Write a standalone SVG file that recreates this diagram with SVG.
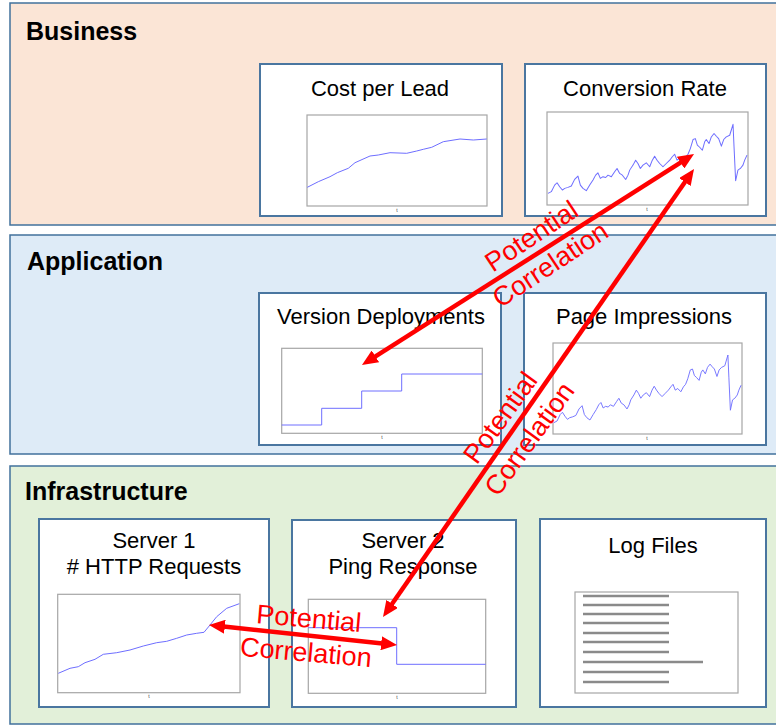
<svg xmlns="http://www.w3.org/2000/svg" width="776" height="725" viewBox="0 0 776 725">
<defs>
<style>
.band{stroke:#41719C;stroke-width:1.5}
.layer{font-family:"Liberation Sans",Arial,sans-serif;font-weight:bold;font-size:25px;fill:#000}
.box{fill:#fff;stroke:#4A76A0;stroke-width:2}
.title{font-family:"Liberation Sans",Arial,sans-serif;font-size:22px;fill:#000;text-anchor:middle}
.frame{fill:#fff;stroke:#A6A6A6;stroke-width:1.2}
.series{fill:none;stroke:#6E6EFF;stroke-width:1;stroke-linejoin:round}
.tick{font-family:"Liberation Sans",Arial,sans-serif;font-size:5px;fill:#444;text-anchor:middle}
.log{stroke:#8A8A8A;stroke-width:2.5}
.arrow{stroke:#FF0000;stroke-width:4.5;fill:none;marker-start:url(#ah);marker-end:url(#ah)}
.lbl{font-family:"Liberation Sans",Arial,sans-serif;font-size:27px;fill:#FF0000;text-anchor:middle}
</style>
<marker id="ah" viewBox="0 0 16 14" markerWidth="16" markerHeight="14" refX="6" refY="7" orient="auto-start-reverse" markerUnits="userSpaceOnUse">
<path d="M0,0 L16,7 L0,14 z" fill="#FF0000"/>
</marker>
<path id="noisy" d="M1,87.5 L4.3,85.7 L7.6,78.6 L10,76.1 L12.6,80.4 L15.3,83.9 L17.6,82.1 L20.9,81.1 L24.2,79.6 L27.5,72.5 L30.8,68.9 L33.2,78.6 L35.8,82.1 L39.1,84.6 L42.5,78.6 L45.8,73.2 L48.4,67.9 L50.7,65.4 L53.1,71.4 L55.7,69.6 L58.4,70.4 L60.7,67.9 L64,69.6 L67.3,64.3 L69.7,60.7 L72.3,66.1 L75,67.9 L78.3,72.5 L80.6,67.9 L82.3,62.5 L85.6,57.1 L88.2,51.8 L90.5,55.4 L92.9,60.7 L95.5,57.1 L98.8,54.6 L102.2,58.9 L104.8,51.8 L107.1,47.5 L109.5,51.8 L112.1,55.4 L115.4,58.9 L118.7,55.4 L122.1,51.8 L124.7,48.2 L127,45.4 L129.4,51.8 L132,50 L135.3,53.6 L138,48.2 L140.3,45.4 L142.6,39.3 L145.3,29.6 L147.6,28.6 L149.6,35.7 L151.9,37.9 L154.6,41.1 L156.9,32.1 L158.5,29.6 L161.2,33.9 L163.5,26.8 L166.2,23.2 L168.5,26.1 L170.8,28.6 L173.5,36.8 L175.8,29.6 L178.4,26.8 L181.8,25 L185.1,13.2 L186.1,37.5 L187.7,73.9 L190,62.5 L192.4,60.7 L195,57.1 L196.7,51.8 L199,46.4"/>
</defs>

<g id="layer-business">
<rect class="band" x="10" y="3" width="780" height="222" fill="#FBE5D6"/>
<text class="layer" x="26" y="40">Business</text>
</g>
<g id="layer-application">
<rect class="band" x="10" y="235" width="780" height="219" fill="#DEEBF7"/>
<text class="layer" x="27" y="270">Application</text>
</g>
<g id="layer-infrastructure">
<rect class="band" x="10" y="466" width="780" height="258" fill="#E2F0D9"/>
<text class="layer" x="25" y="500">Infrastructure</text>
</g>

<g id="node-cost-per-lead">
<rect class="box" x="260" y="64" width="242" height="152"/>
<text class="title" x="380" y="96">Cost per Lead</text>
<rect class="frame" x="307" y="115" width="180" height="91"/>
<polyline class="series" points="307.3,187.3 318.3,181.7 330,176.7 337.3,172.7 348.3,168.3 355,162.7 370,156 378.3,155 390,152.7 406.7,153.3 416.7,151 423.3,149.3 431.7,147.3 443.3,141.7 460,139 473.3,140 486.7,139"/>
<text class="tick" x="397" y="212">t</text>
</g>

<g id="node-conversion-rate">
<rect class="box" x="525" y="64" width="241" height="152"/>
<text class="title" x="645" y="96">Conversion Rate</text>
<rect class="frame" x="547" y="112" width="201" height="93"/>
<use href="#noisy" class="series" vector-effect="non-scaling-stroke" transform="translate(547,112) scale(1.005,0.93)"/>
<text class="tick" x="647" y="211">t</text>
</g>

<g id="node-version-deployments">
<rect class="box" x="259" y="293" width="242" height="152"/>
<text class="title" x="381" y="324">Version Deployments</text>
<rect class="frame" x="281.7" y="348.3" width="200.6" height="85"/>
<polyline class="series" points="281.7,425 321.7,425 321.7,408.3 361.7,408.3 361.7,391 401.7,391 401.7,374 482.3,374"/>
<text class="tick" x="382" y="439">t</text>
</g>

<g id="node-page-impressions">
<rect class="box" x="524" y="293" width="242" height="152"/>
<text class="title" x="644" y="324">Page Impressions</text>
<rect class="frame" x="553" y="343" width="189" height="91"/>
<use href="#noisy" class="series" vector-effect="non-scaling-stroke" transform="translate(553,343) scale(0.945,0.91)"/>
<text class="tick" x="647" y="440">t</text>
</g>

<g id="node-server1">
<rect class="box" x="39" y="519" width="230" height="188"/>
<text class="title" x="154" y="548">Server 1</text>
<text class="title" x="154" y="574"># HTTP Requests</text>
<rect class="frame" x="57.7" y="594.3" width="182.3" height="98.4"/>
<polyline class="series" points="58.3,673.3 70,668.3 78.3,666.7 85,662.7 95,659.3 103.3,654.3 116.7,652.7 130,650 143.3,646 156.7,642.7 166.7,641.3 176.7,638.3 186.7,635 196.7,633.3 204,632.3 210,625 216.7,616.7 226.7,608.3 239.3,603.7"/>
<text class="tick" x="149" y="698">t</text>
</g>

<g id="node-server2">
<rect class="box" x="292" y="520" width="224" height="187"/>
<text class="title" x="403" y="548">Server 2</text>
<text class="title" x="403" y="574">Ping Response</text>
<rect class="frame" x="308.3" y="599.3" width="177.4" height="94"/>
<polyline class="series" points="308.3,627.7 396.7,627.7 396.7,664.3 485.7,664.3"/>
<text class="tick" x="397" y="699">t</text>
</g>

<g id="node-log-files">
<rect class="box" x="540" y="519" width="226" height="188"/>
<text class="title" x="653" y="553">Log Files</text>
<rect class="frame" x="575" y="592" width="163" height="101"/>
<g class="log">
<line x1="583" y1="596" x2="669" y2="596"/>
<line x1="583" y1="605" x2="669" y2="605"/>
<line x1="583" y1="614" x2="669" y2="614"/>
<line x1="583" y1="623" x2="669" y2="623"/>
<line x1="583" y1="633" x2="669" y2="633"/>
<line x1="583" y1="642" x2="669" y2="642"/>
<line x1="583" y1="652" x2="669" y2="652"/>
<line x1="583" y1="662" x2="703" y2="662"/>
<line x1="583" y1="672" x2="669" y2="672"/>
<line x1="583" y1="682" x2="669" y2="682"/>
</g>
</g>

<g id="connectors">
<line class="arrow" x1="370.4" y1="359.6" x2="685.6" y2="159.4"/>
<line class="arrow" x1="388.7" y1="608.8" x2="688.3" y2="177.2"/>
<line class="arrow" x1="218.9" y1="626.1" x2="387.1" y2="643.9"/>
<g transform="translate(540.9,250.4) rotate(-33.5)">
<text class="lbl" x="0" y="-8">Potential</text>
<text class="lbl" x="0" y="26">Correlation</text>
</g>
<g transform="translate(515,428.4) rotate(-54)">
<text class="lbl" x="0" y="-9">Potential</text>
<text class="lbl" x="0" y="27">Correlation</text>
</g>
<g transform="translate(307.5,635.5) rotate(5)">
<text class="lbl" x="0" y="-8">Potential</text>
<text class="lbl" x="0" y="26">Correlation</text>
</g>
</g>
</svg>
